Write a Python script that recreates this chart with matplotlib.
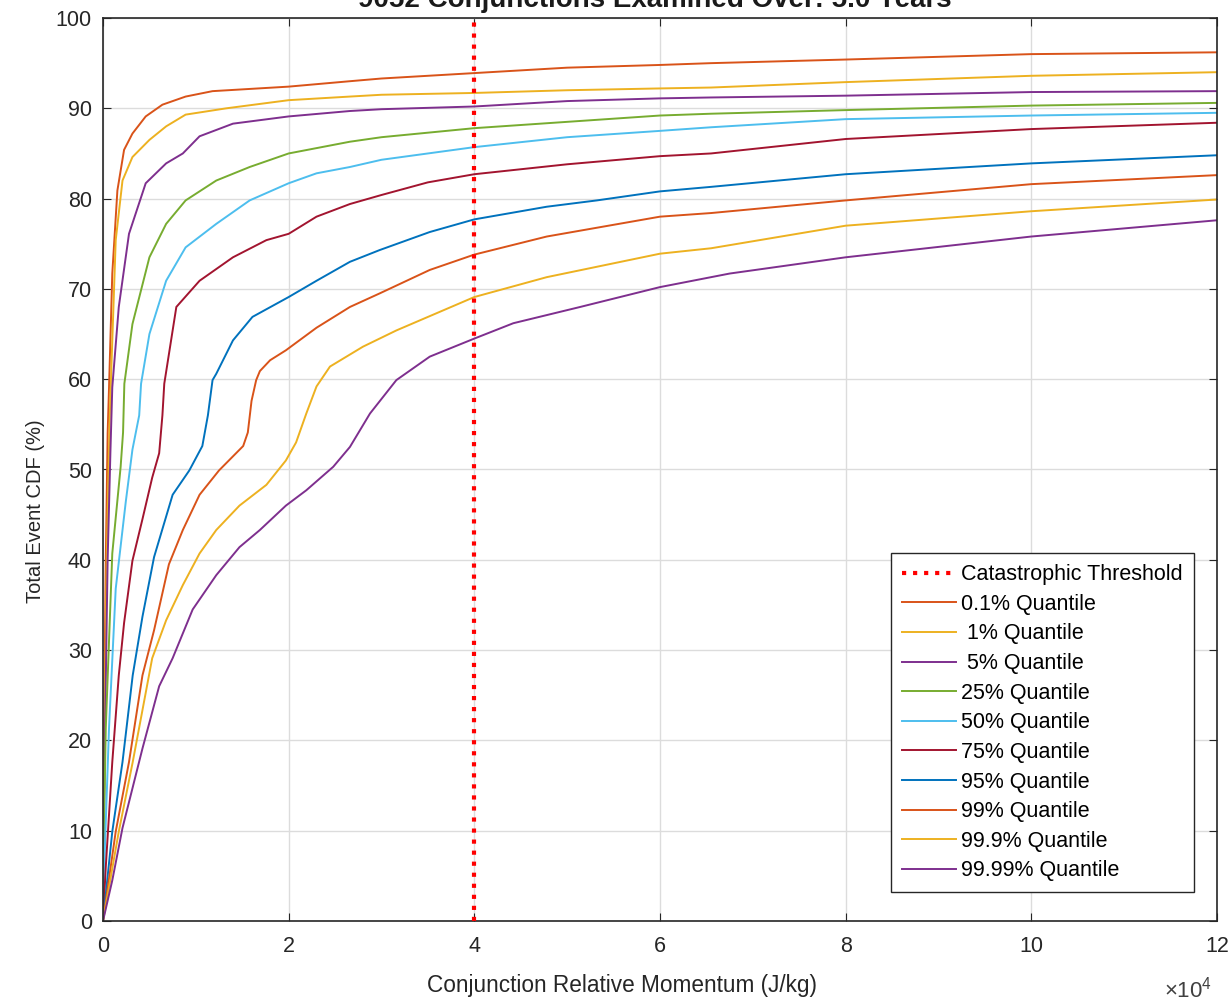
import matplotlib
matplotlib.use("Agg")
import matplotlib.pyplot as plt
from matplotlib.ticker import FuncFormatter

plt.rcParams["font.family"] = ["Liberation Sans", "DejaVu Sans"]
plt.rcParams["mathtext.fontset"] = "custom"
plt.rcParams["mathtext.rm"] = "Liberation Sans"

# x values read in units of 1e4 J/kg, y values in %
x_scale = 1e4
threshold = 4.0

labels = ["0.1% Quantile", " 1% Quantile", " 5% Quantile", "25% Quantile", "50% Quantile",
          "75% Quantile", "95% Quantile", "99% Quantile", "99.9% Quantile", "99.99% Quantile"]
colors = ["#D95319", "#EDB120", "#7E2F8E", "#77AC30", "#4DBEEE",
          "#A2142F", "#0072BD", "#D95319", "#EDB120", "#7E2F8E"]

q01_x = [0, 0.01, 0.03, 0.05, 0.065, 0.10, 0.155, 0.227, 0.317, 0.46, 0.64, 0.89, 1.18, 2.0, 2.66, 3.0, 4.0, 5.0, 6.0, 6.55, 8.0, 10.0, 12.0]
q01_y = [0, 20, 40, 54, 59.1, 71.7, 80.9, 85.4, 87.2, 89.1, 90.4, 91.3, 91.9, 92.4, 93.0, 93.3, 93.9, 94.5, 94.8, 95.0, 95.4, 96.0, 96.2]

q1_x = [0, 0.015, 0.04, 0.07, 0.083, 0.137, 0.21, 0.317, 0.5, 0.68, 0.89, 1.33, 2.0, 2.66, 3.0, 4.0, 5.0, 6.0, 6.55, 8.0, 10.0, 12.0]
q1_y = [0, 20, 40, 55, 59.1, 75.4, 82.0, 84.6, 86.5, 88.0, 89.3, 90.0, 90.9, 91.3, 91.5, 91.7, 92.0, 92.2, 92.3, 92.9, 93.6, 94.0]

q5_x = [0, 0.02, 0.05, 0.08, 0.10, 0.17, 0.28, 0.46, 0.68, 0.86, 1.04, 1.4, 2.0, 2.66, 3.0, 4.0, 5.0, 6.0, 6.55, 8.0, 10.0, 12.0]
q5_y = [0, 20, 40, 52, 59.1, 68.0, 76.1, 81.7, 83.9, 85.0, 86.9, 88.3, 89.1, 89.7, 89.9, 90.2, 90.8, 91.1, 91.2, 91.4, 91.8, 91.9]

q25_x = [0, 0.01, 0.03, 0.1, 0.19, 0.216, 0.23, 0.317, 0.5, 0.68, 0.89, 1.22, 1.58, 2.0, 2.66, 3.0, 4.0, 5.0, 6.0, 6.55, 8.0, 10.0, 12.0]
q25_y = [0, 10, 21.4, 40.7, 50.3, 54.1, 59.5, 66.1, 73.5, 77.2, 79.8, 82.0, 83.5, 85.0, 86.3, 86.8, 87.8, 88.5, 89.2, 89.4, 89.8, 90.3, 90.6]

q50_x = [0, 0.02, 0.065, 0.137, 0.245, 0.317, 0.39, 0.41, 0.5, 0.68, 0.89, 1.22, 1.58, 2.0, 2.3, 2.66, 3.0, 3.5, 4.0, 5.0, 6.0, 6.55, 8.0, 10.0, 12.0]
q50_y = [0, 8, 21.4, 36.8, 46.4, 52.2, 56.0, 59.5, 65.0, 70.9, 74.6, 77.2, 79.8, 81.7, 82.8, 83.5, 84.3, 85.0, 85.7, 86.8, 87.5, 87.9, 88.8, 89.2, 89.5]

q75_x = [0, 0.03, 0.1, 0.17, 0.227, 0.317, 0.425, 0.53, 0.605, 0.64, 0.66, 0.79, 1.04, 1.4, 1.76, 2.0, 2.3, 2.66, 3.0, 3.5, 4.0, 5.0, 6.0, 6.55, 8.0, 10.0, 12.0]
q75_y = [0, 6, 17.6, 27.2, 33.0, 39.9, 44.5, 49.1, 51.8, 56.0, 59.5, 68.0, 70.9, 73.5, 75.4, 76.1, 78.0, 79.4, 80.4, 81.8, 82.7, 83.8, 84.7, 85.0, 86.6, 87.7, 88.4]

q95_x = [0, 0.1, 0.21, 0.32, 0.425, 0.55, 0.75, 0.93, 1.07, 1.13, 1.18, 1.22, 1.4, 1.61, 2.0, 2.3, 2.66, 2.98, 3.52, 4.0, 4.78, 5.32, 6.0, 6.55, 8.0, 10.0, 12.0]
q95_y = [0, 9.9, 17.6, 27.2, 33.7, 40.3, 47.2, 49.9, 52.6, 56.0, 59.9, 60.6, 64.3, 66.9, 69.1, 70.9, 73.0, 74.3, 76.3, 77.7, 79.1, 79.8, 80.8, 81.3, 82.7, 83.9, 84.8]

q99_x = [0, 0.137, 0.28, 0.425, 0.55, 0.71, 0.86, 1.04, 1.25, 1.51, 1.56, 1.60, 1.65, 1.69, 1.8, 1.97, 2.3, 2.66, 2.98, 3.52, 4.0, 4.78, 6.0, 6.55, 8.0, 10.0, 12.0]
q99_y = [0, 9.9, 17.6, 27.2, 32.2, 39.5, 43.3, 47.2, 49.9, 52.6, 54.1, 57.6, 59.9, 60.9, 62.1, 63.2, 65.7, 68.0, 69.5, 72.1, 73.8, 75.8, 78.0, 78.4, 79.8, 81.6, 82.6]

q999_x = [0, 0.17, 0.32, 0.53, 0.68, 0.86, 1.04, 1.22, 1.47, 1.76, 1.97, 2.08, 2.19, 2.30, 2.445, 2.80, 3.16, 4.0, 4.78, 6.0, 6.55, 8.0, 10.0, 12.0]
q999_y = [0, 9.9, 17.6, 29.1, 33.3, 37.2, 40.7, 43.3, 46.0, 48.3, 51.0, 53.0, 56.2, 59.2, 61.4, 63.6, 65.4, 69.1, 71.3, 73.9, 74.5, 77.0, 78.6, 79.9]

q9999_x = [0, 0.1, 0.21, 0.425, 0.605, 0.75, 0.966, 1.22, 1.47, 1.69, 1.97, 2.19, 2.48, 2.66, 2.876, 3.16, 3.52, 4.0, 4.42, 5.14, 6.0, 6.75, 8.0, 10.0, 12.0]
q9999_y = [0, 4.5, 10.3, 19.1, 26.0, 29.1, 34.5, 38.3, 41.4, 43.3, 46.0, 47.7, 50.3, 52.5, 56.2, 59.9, 62.5, 64.5, 66.2, 68.0, 70.2, 71.7, 73.5, 75.8, 77.6]

series = [(q01_x, q01_y), (q1_x, q1_y), (q5_x, q5_y), (q25_x, q25_y), (q50_x, q50_y),
          (q75_x, q75_y), (q95_x, q95_y), (q99_x, q99_y), (q999_x, q999_y), (q9999_x, q9999_y)]

fig = plt.figure(figsize=(12.31, 10.08), dpi=100)
ax = fig.add_axes([103 / 1231, 87 / 1008, 1114 / 1231, 903 / 1008])

ax.axvline(threshold * x_scale, color="red", linestyle=":", linewidth=3, label="Catastrophic Threshold", zorder=3)
for (xs, ys), lab, c in zip(series, labels, colors):
    ax.plot([v * x_scale for v in xs], ys, color=c, linewidth=1.4, label=lab)

ax.set_xlim(0, 12e4)
ax.set_ylim(0, 100)
ax.set_xticks([i * 2e4 for i in range(7)])
ax.set_yticks(range(0, 101, 10))
ax.xaxis.set_major_formatter(FuncFormatter(lambda v, p: f"{v / x_scale:g}"))

ax.grid(True, color="#dcdcdc", linewidth=1)
ax.set_axisbelow(True)
for s in ax.spines.values():
    s.set_color("#262626")
    s.set_linewidth(1.2)
ax.tick_params(direction="in", top=True, right=True, length=6, labelsize=15.5,
               labelcolor="#262626", color="#262626")
ax.tick_params(axis="x", pad=11)
ax.tick_params(axis="y", pad=8)

ax.set_xlabel("Conjunction Relative Momentum (J/kg)", fontsize=16.3, color="#262626", va="center")
ax.xaxis.set_label_coords(0.466, -0.071)
ax.set_ylabel("Total Event CDF (%)", fontsize=14.5, color="#262626", va="center")
ax.yaxis.set_label_coords(-0.061, 0.454)
fig.text(1188 / 1231, 1 - 990 / 1008, r"$\times\mathregular{10^4}$", ha="center", va="center",
         fontsize=16, color="#404040")
# title sits mostly above the top edge, as in the source image
fig.text(0.532, 1 - 7 / 1008, "9052 Conjunctions Examined Over: 5.0 Years",
         ha="center", va="baseline", fontsize=20, fontweight="bold", color="#1a1a1a")

leg = ax.legend(loc="lower right", bbox_to_anchor=(0.979, 0.032), borderaxespad=0, fontsize=15.5,
                handlelength=2.5, labelspacing=0.4, borderpad=0.5, fancybox=False, framealpha=1,
                edgecolor="#262626", handletextpad=0.25)
leg.get_frame().set_linewidth(1.0)

fig.savefig("out.png", dpi=100)
